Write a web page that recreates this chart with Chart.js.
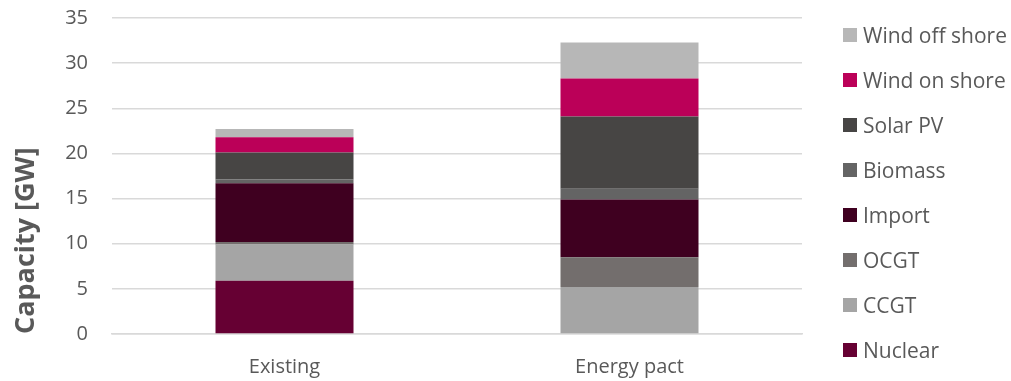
<!DOCTYPE html>
<html>
<head>
<meta charset="utf-8">
<script src="https://cdn.jsdelivr.net/npm/chart.js@4/dist/chart.umd.min.js"></script>
<style>
    html, body { margin: 0; padding: 0; background: #fff; }
    #wrap { position: relative; width: 1011px; height: 381px; }
    #legend { position: absolute; left: 843px; top: 12px; margin: 0; padding: 0; list-style: none;
              font-family: 'Open Sans', sans-serif; font-size: 21px; color: #595959; }
    #legend li { height: 45px; display: flex; align-items: center; white-space: nowrap; }
    #legend span { display: inline-block; width: 14px; height: 14px; margin-right: 6px; }
</style>
</head>
<body>
<div id="wrap">
    <canvas id="capacityChart" width="1011" height="381"></canvas>
    <ul id="legend"></ul>
</div>
<script>
// Scenario categories
const scenarios = ['Existing', 'Energy pact'];

// Installed capacity per technology [GW]
const nuclear = [5.9, 0];
const ccgt = [4.0, 5.2];
const ocgt = [0.3, 3.3];
const importCap = [6.5, 6.4];
const biomass = [0.4, 1.2];
const solarPV = [3.0, 8.0];
const windOnShore = [1.7, 4.2];
const windOffShore = [0.9, 4.0];

const yTicks = [0, 5, 10, 15, 20, 25, 30, 35];

const textColor = '#595959';

const chartData = {
    labels: scenarios,
    datasets: [
        { label: 'Nuclear', data: nuclear, backgroundColor: '#660033' },
        { label: 'CCGT', data: ccgt, backgroundColor: '#a5a5a5' },
        { label: 'OCGT', data: ocgt, backgroundColor: '#736e6d' },
        { label: 'Import', data: importCap, backgroundColor: '#3f0020' },
        { label: 'Biomass', data: biomass, backgroundColor: '#646464' },
        { label: 'Solar PV', data: solarPV, backgroundColor: '#474544' },
        { label: 'Wind on shore', data: windOnShore, backgroundColor: '#bb0058' },
        { label: 'Wind off shore', data: windOffShore, backgroundColor: '#b7b7b7' }
    ]
};

const ctx = document.getElementById('capacityChart').getContext('2d');
const capacityChart = new Chart(ctx, {
    type: 'bar',
    data: chartData,
    options: {
        responsive: false,
        animation: false,
        datasets: {
            bar: {
                barPercentage: 0.4,
                categoryPercentage: 1.0,
                borderWidth: 0
            }
        },
        layout: {
            padding: { top: 18, bottom: 0, left: 0, right: 209 }
        },
        scales: {
            x: {
                stacked: true,
                afterFit: (scale) => {
                    scale.height = 47; // keep the axis band as tight as the original
                },
                grid: { display: false, drawTicks: false },
                border: { color: '#d9d9d9', width: 1.5 },
                ticks: {
                    color: textColor,
                    font: { family: 'Open Sans', size: 20 },
                    padding: 21
                }
            },
            y: {
                stacked: true,
                min: 0,
                max: 35,
                afterBuildTicks: (scale) => {
                    scale.ticks = yTicks.map(v => ({ value: v }));
                },
                afterFit: (scale) => {
                    scale.width = 112;
                    scale.paddingTop = 0;
                    scale.paddingBottom = 0;
                },
                grid: {
                    color: '#d9d9d9',
                    lineWidth: 1.5,
                    drawTicks: false
                },
                border: { display: false },
                ticks: {
                    color: textColor,
                    font: { family: 'Open Sans', size: 20 },
                    padding: 24
                },
                title: {
                    display: true,
                    text: 'Capacity [GW]',
                    align: 'start',
                    color: textColor,
                    font: { family: 'Open Sans', size: 27, weight: 'bold' },
                    padding: { top: 10, bottom: 0 }
                }
            }
        },
        plugins: {
            legend: { display: false },
            tooltip: { enabled: false }
        }
    }
});

// Legend built from the chart's datasets, top entry = top of the stack
const legendList = document.getElementById('legend');
capacityChart.data.datasets.slice().reverse().forEach(ds => {
    const li = document.createElement('li');
    const box = document.createElement('span');
    box.style.background = ds.backgroundColor;
    li.appendChild(box);
    li.appendChild(document.createTextNode(ds.label));
    legendList.appendChild(li);
});
</script>
</body>
</html>
